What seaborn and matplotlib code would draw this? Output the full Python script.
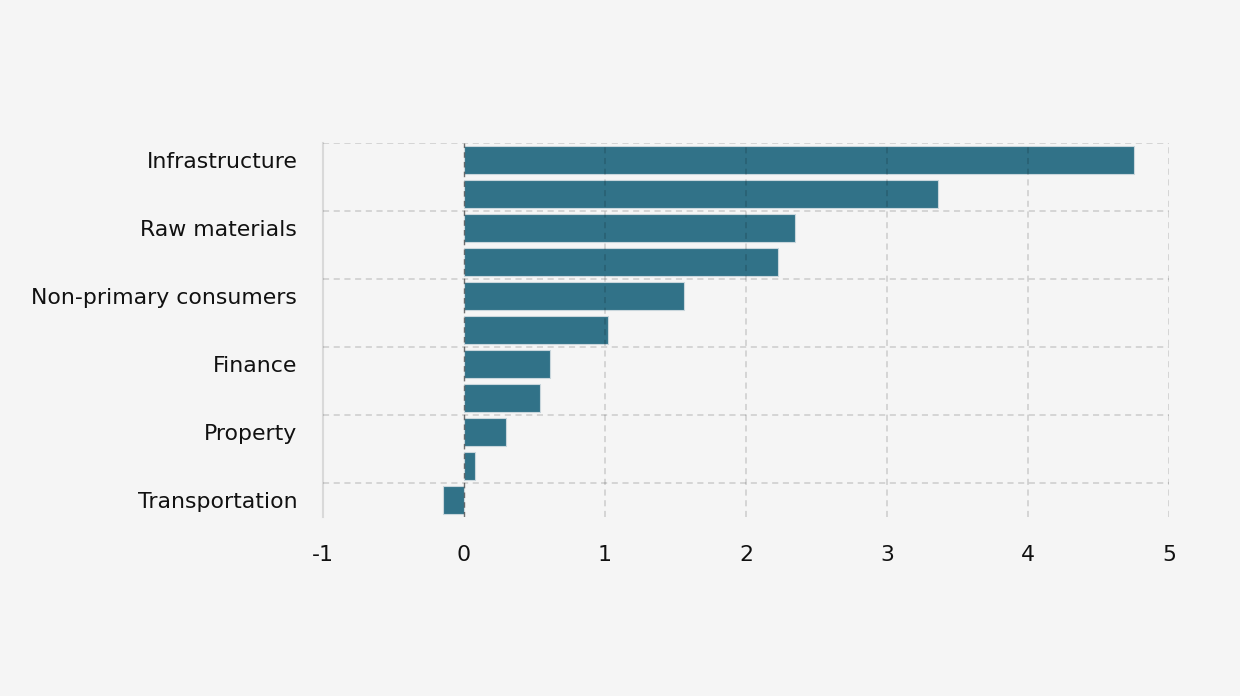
import matplotlib
matplotlib.use("Agg")
import matplotlib.pyplot as plt
from matplotlib.ticker import FixedLocator
import seaborn as sns
import pandas as pd

# Sector values (only every other sector name is shown on the axis)
sectors = [
    "Infrastructure", "Technology", "Raw materials", "Energy",
    "Non-primary consumers", "Healthcare", "Finance", "Utilities",
    "Property", "Primary consumers", "Transportation",
]
values = [4.75, 3.36, 2.35, 2.23, 1.56, 1.02, 0.61, 0.54, 0.30, 0.08, -0.15]
x_ticks = [-1, 0, 1, 2, 3, 4, 5]

bg = "#f5f5f5"
bar_color = "#317288"
grid_rgba = (0, 0, 0, 0.17)

df = pd.DataFrame({"sector": sectors, "value": values})

sns.set_theme(style="white")
plt.rcParams["font.family"] = ["DejaVu Sans"]

fig = plt.figure(figsize=(12.4, 6.96), dpi=100, facecolor=bg)
ax = fig.add_axes([0.2605, 0.2572, 0.6822, 0.5373], facecolor=bg)

sns.barplot(
    data=df, y="sector", x="value", orient="h", color=bar_color,
    width=0.82, saturation=1, edgecolor="#c9d6dc", linewidth=0.8, ax=ax,
    zorder=2,
)

# Axis limits and ticks
ax.set_xlim(-1, 5)
ax.set_ylim(len(sectors) - 0.5, -0.5)
ax.set_xticks(x_ticks)
ax.set_xticklabels([str(t) for t in x_ticks])
ax.set_yticks(range(0, len(sectors), 2))
ax.set_yticklabels(sectors[::2])
ax.yaxis.set_minor_locator(FixedLocator([i - 0.5 for i in range(0, len(sectors), 2)]))
ax.set_xlabel("")
ax.set_ylabel("")

ax.tick_params(axis="x", length=0, pad=20, labelsize=15.8, colors="#111111")
ax.tick_params(axis="y", which="major", length=8, width=1.2, color="#d4d4d4",
               pad=10.5, labelsize=15.8, labelcolor="#111111")
ax.tick_params(axis="y", which="minor", length=0)

# Grid styling: translucent dark dashes drawn over the bars
ax.grid(False)
for xv in x_ticks[2:]:
    ax.axvline(xv, color=grid_rgba, linestyle=(0, (4, 3)), linewidth=1.1,
               zorder=3)
for yv in ax.yaxis.get_minorticklocs():
    ax.axhline(yv, color=grid_rgba, linestyle=(0, (4, 3)), linewidth=1.1,
               zorder=3)
ax.axvline(0, color="#444444", linestyle=(0, (4, 3)), linewidth=1.0,
           alpha=0.75, zorder=4)

# Spines
for side in ["top", "right", "bottom"]:
    ax.spines[side].set_visible(False)
ax.spines["left"].set_color("#d9d9d9")
ax.spines["left"].set_linewidth(1.5)

fig.savefig("out.png", dpi=100, facecolor=bg)
